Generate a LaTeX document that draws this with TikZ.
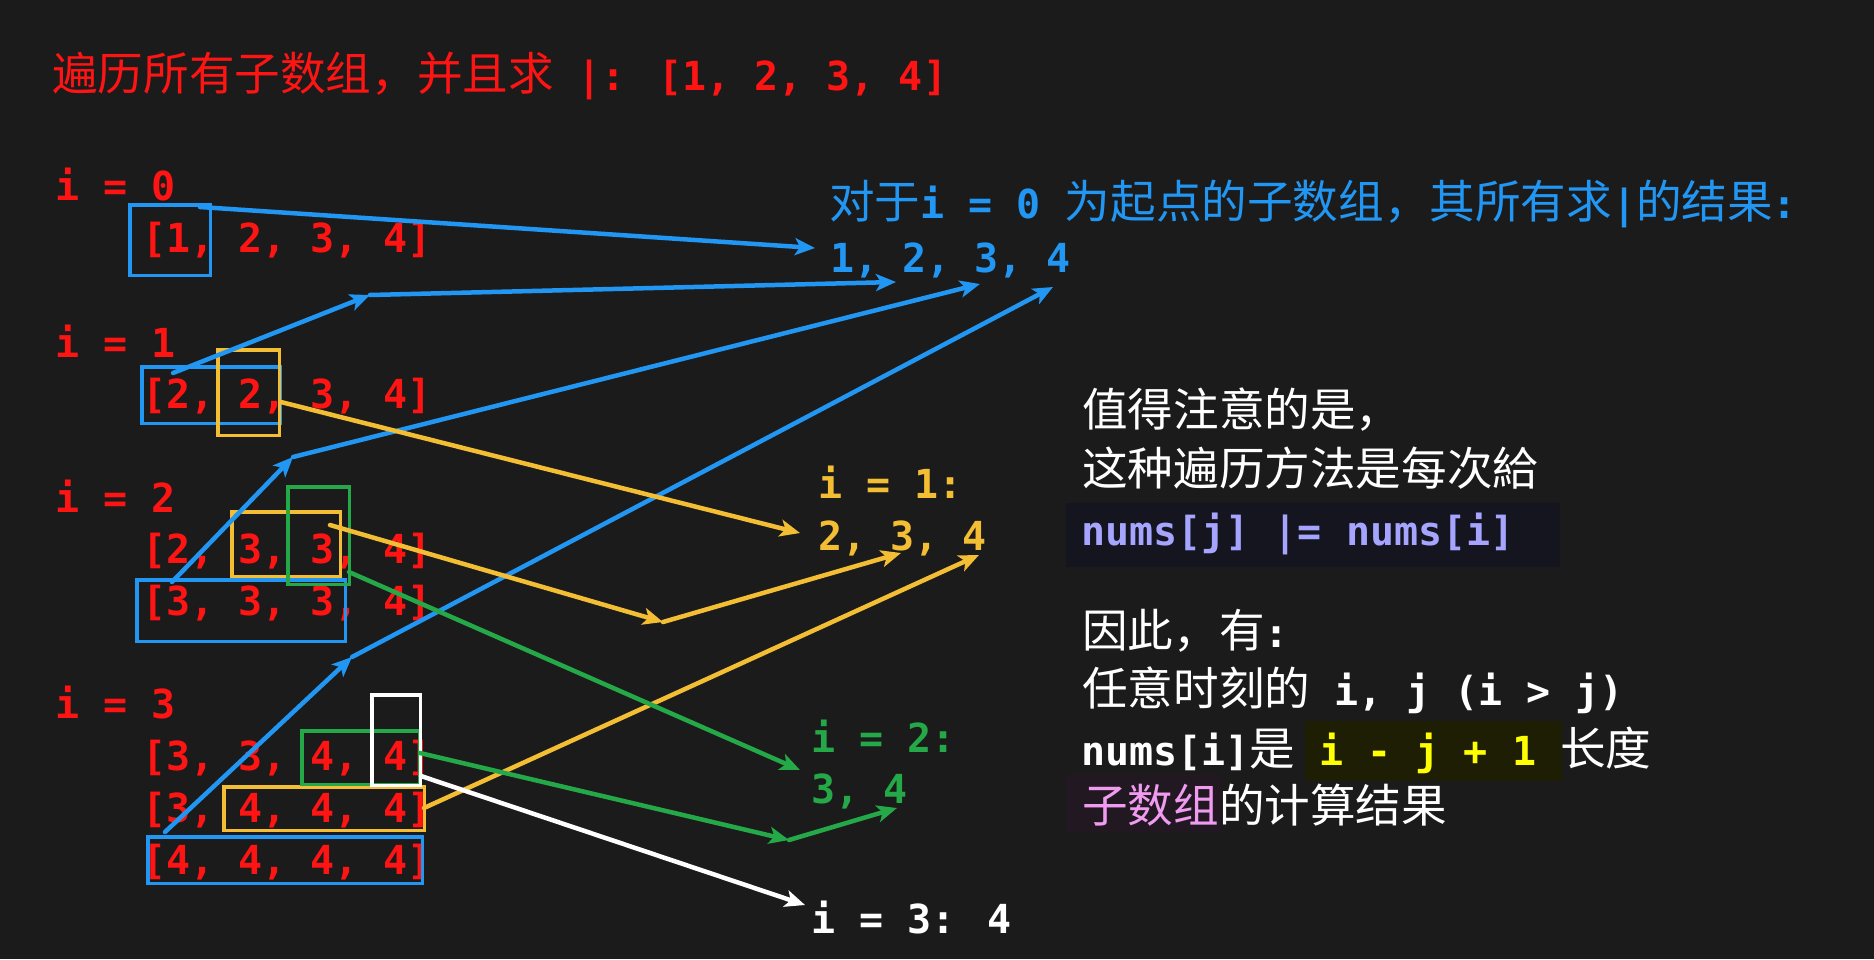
\documentclass[tikz,border=0pt]{standalone}
\usepackage{fontspec}
\setmainfont{DejaVu Sans Mono}
\newfontfamily\cjkfont{Noto Sans CJK SC}[Scale=1.14]
\newcommand{\zh}[1]{{\cjkfont\mdseries #1}}
\usetikzlibrary{arrows.meta}

\definecolor{bgdark}{RGB}{27,27,27}
\definecolor{arrred}{RGB}{255,20,20}
\definecolor{lineblue}{RGB}{33,150,243}
\definecolor{lineyellow}{RGB}{244,190,52}
\definecolor{linegreen}{RGB}{36,168,72}
\definecolor{codeviolet}{RGB}{165,165,255}
\definecolor{codebg}{RGB}{21,21,32}
\definecolor{hlyellow}{RGB}{255,255,0}
\definecolor{hlbg}{RGB}{30,30,4}
\definecolor{hlpink}{RGB}{240,155,240}
\definecolor{pinkbg}{RGB}{33,24,33}

\begin{document}
\begin{tikzpicture}[x=1pt, y=-1pt, node distance=52pt,
	txt/.style = {anchor=base west, inner sep=0pt, font=\fontsize{40}{48}\selectfont\bfseries},
	arr/.style = {txt, text=arrred},
	hbox/.style = {draw, line width=3.5pt, inner sep=0pt},
	link/.style = {line width=4.5pt, line cap=round, -{Stealth[length=20pt, width=17pt, inset=5pt]}}]

				\fill[bgdark] (0,0) rectangle (1874,959);
				\useasboundingbox (0,0) rectangle (1874,959);

				\node[arr] (title) at (52,90) {\zh{遍历所有子数组，并且求} |: [1, 2, 3, 4]};

				\node[arr] (i0) at (55,200) {i = 0};
				\node[arr] (row0) at (142,252) {[1, 2, 3, 4]};

				\node[arr] (i1) at (55,357) {i = 1};
				\node[arr] (row1) at (142,408) {[2, 2, 3, 4]};

				\node[arr] (i2) at (55,512) {i = 2};
				\node[arr] (row2a) at (142,563) {[2, 3, 3, 4]};
				\node[arr] (row2b) [below of=row2a] {[3, 3, 3, 4]};

				\node[arr] (i3) at (55,718) {i = 3};
				\node[arr] (row3a) at (142,770) {[3, 3, 4, 4]};
				\node[arr] (row3b) [below of=row3a] {[3, 4, 4, 4]};
				\node[arr] (row3c) [below of=row3b] {[4, 4, 4, 4]};

				% results
				\node[txt, text=lineblue] (head0) at (829,218) {\zh{对于}i = 0 \zh{为起点的子数组，其所有求}|\zh{的结果}:};
				\node[txt, text=lineblue] (res0) at (830,272) {1, 2, 3, 4};
				\node[txt, text=lineyellow] (lab1) at (818,498) {i = 1:};
				\node[txt, text=lineyellow] (res1) at (818,550) {2, 3, 4};
				\node[txt, text=linegreen] (lab2) at (811,752) {i = 2:};
				\node[txt, text=linegreen] (res2) at (811,803) {3, 4};
				\node[txt, text=white] (res3) at (811,933) {i = 3: 4};

				% notes
				\fill[codebg] (1066,503) rectangle (1560,567);
				\fill[hlbg] (1305,721) rectangle (1562,781);
				\fill[pinkbg] (1066,774) rectangle (1221,833);
				\node[txt, text=white] (note1) at (1082,426) {\zh{值得注意的是，}};
				\node[txt, text=white] (note2) at (1082,485) {\zh{这种遍历方法是每次給}};
				\node[txt, text=codeviolet] (code) at (1081,545) {nums[j] |= nums[i]};
				\node[txt, text=white] (note3) at (1082,647) {\zh{因此，有}:};
				\node[txt, text=white] (note4) at (1082,705) {\zh{任意时刻的} i, j (i > j)};
				\node[txt, text=white] (note5) at (1081,765) {nums[i]\zh{是} \textcolor{hlyellow}{i - j + 1} \zh{长度}};
				\node[txt, text=white] (note6) at (1082,822) {\textcolor{hlpink}{\zh{子数组}}\zh{的计算结果}};

				% boxes
				\node[hbox, draw=lineblue, minimum width=80.5pt, minimum height=70.5pt] (box0) at (170,240) {};
				\node[hbox, draw=lineblue, minimum width=138.5pt, minimum height=56.5pt] (box1) at (211,395) {};
				\node[hbox, draw=lineyellow, minimum width=61.5pt, minimum height=85.5pt] (ybox1) at (248.5,392.5) {};
				\node[hbox, draw=lineblue, minimum width=208.5pt, minimum height=61.5pt] (box2) at (241,610.5) {};
				\node[hbox, draw=lineyellow, minimum width=108.5pt, minimum height=64.5pt] (ybox2) at (286,544) {};
				\node[hbox, draw=linegreen, minimum width=61.5pt, minimum height=97.5pt] (gbox2) at (318.5,535.5) {};
				\node[hbox, draw=lineblue, minimum width=274.5pt, minimum height=46.5pt] (box3) at (285,860) {};
				\node[hbox, draw=lineyellow, minimum width=200.5pt, minimum height=43.5pt] (ybox3) at (324,808.5) {};
				\node[hbox, draw=linegreen, minimum width=117.5pt, minimum height=53.5pt] (gbox3) at (360.5,757.5) {};
				\node[hbox, draw=white, minimum width=48.5pt, minimum height=90.5pt] (wbox3) at (396,740) {};

				% arrow points
				\coordinate (b0s) at (200,207);
				\coordinate (b0t) at (815,248);
				\coordinate (b1s) at (173,373);
				\coordinate (b1m) at (370,295);
				\coordinate (b1t) at (896,282);
				\coordinate (b2s) at (172,582);
				\coordinate (b2m) at (293,457);
				\coordinate (b2t) at (980,284);
				\coordinate (b3s) at (165,832);
				\coordinate (b3m) at (352,657);
				\coordinate (b3t) at (1053,287);
				\coordinate (y1s) at (281,402);
				\coordinate (y1t) at (800,533);
				\coordinate (y2s) at (330,525);
				\coordinate (y2m) at (663,622);
				\coordinate (y2t) at (901,553);
				\coordinate (y3s) at (424,808);
				\coordinate (y3t) at (979,555);
				\coordinate (g2s) at (349,572);
				\coordinate (g2t) at (800,770);
				\coordinate (g3s) at (420,753);
				\coordinate (g3m) at (789,840);
				\coordinate (g3t) at (897,808);
				\coordinate (w3s) at (421,776);
				\coordinate (w3t) at (805,905);

				\draw[link, lineblue] (b0s) -- (b0t);
				\draw[link, lineblue] (b1s) -- (b1m);
				\draw[link, lineblue] (b1m) -- (b1t);
				\draw[link, lineblue] (b2s) -- (b2m);
				\draw[link, lineblue] (b2m) -- (b2t);
				\draw[link, lineblue] (b3s) -- (b3m);
				\draw[link, lineblue] (b3m) -- (b3t);

				\draw[link, lineyellow] (y1s) -- (y1t);
				\draw[link, lineyellow] (y2s) -- (y2m);
				\draw[link, lineyellow] (y2m) -- (y2t);
				\draw[link, lineyellow] (y3s) -- (y3t);

				\draw[link, linegreen] (g2s) -- (g2t);
				\draw[link, linegreen] (g3s) -- (g3m);
				\draw[link, linegreen] (g3m) -- (g3t);

				\draw[link, white] (w3s) -- (w3t);

\end{tikzpicture}
\end{document}
